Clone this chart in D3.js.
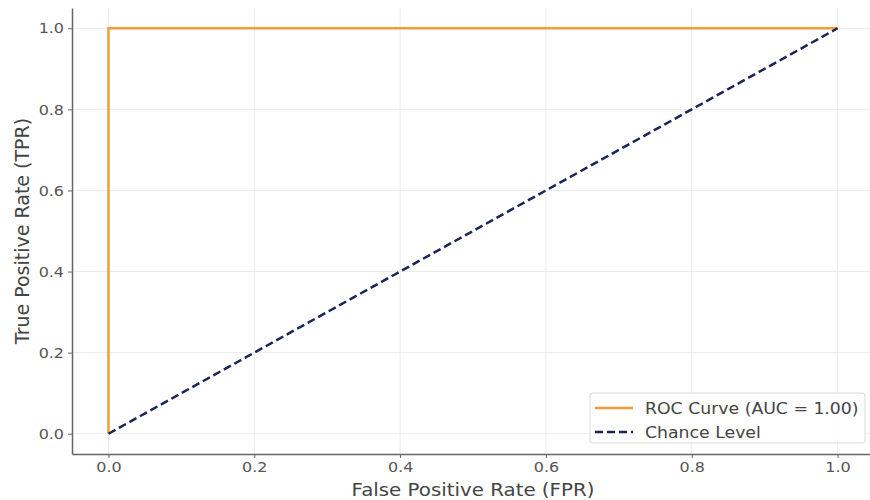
<!DOCTYPE html>
<html>
<head>
<meta charset="utf-8">
<script src="https://cdn.jsdelivr.net/npm/d3@7"></script>
<style>
  body { margin: 0; background: #fff; }
  text { font-family: "DejaVu Sans", sans-serif; }
</style>
</head>
<body>
<div id="chart"></div>
<script>
// ROC curve points
var fpr = [0.0, 0.0, 1.0];
var tpr = [0.0, 1.0, 1.0];
// chance diagonal
var chanceX = [0.0, 1.0];
var chanceY = [0.0, 1.0];
var tickValues = [0.0, 0.2, 0.4, 0.6, 0.8, 1.0];
var rocLabel = "ROC Curve (AUC = 1.00)";
var chanceLabel = "Chance Level";

var width = 870, height = 500;
var plotLeft = 72, plotRight = 874, plotTop = 8, plotBottom = 454;
var rocColor = "#f39c3c", chanceColor = "#1b2559";

var svg = d3.select("#chart").append("svg")
    .attr("width", width)
    .attr("height", height);

// the reference text looks a little wide, stretch it horizontally
function widen(sel, k){
  sel.each(function(){
    var w = this.getComputedTextLength();
    d3.select(this).attr("textLength", w * k).attr("lengthAdjust", "spacingAndGlyphs");
  });
}

var x = d3.scaleLinear().domain([-0.05, 1.05]).range([plotLeft, plotRight]);
var y = d3.scaleLinear().domain([-0.05, 1.05]).range([plotBottom, plotTop]);

// grid
svg.append("g").selectAll("line")
    .data(tickValues)
    .enter().append("line")
    .attr("x1", function(d){ return x(d); })
    .attr("x2", function(d){ return x(d); })
    .attr("y1", plotTop).attr("y2", plotBottom)
    .attr("stroke", "#ebebeb").attr("stroke-width", 1);
svg.append("g").selectAll("line")
    .data(tickValues)
    .enter().append("line")
    .attr("y1", function(d){ return y(d); })
    .attr("y2", function(d){ return y(d); })
    .attr("x1", plotLeft).attr("x2", plotRight)
    .attr("stroke", "#ebebeb").attr("stroke-width", 1);

var fmt = d3.format(".1f");
var xAxis = svg.append("g")
    .attr("transform", "translate(0," + plotBottom + ")")
    .call(d3.axisBottom(x).tickValues(tickValues).tickFormat(fmt).tickSize(4).tickPadding(4).tickSizeOuter(0));
var yAxis = svg.append("g")
    .attr("transform", "translate(" + plotLeft + ",0)")
    .call(d3.axisLeft(y).tickValues(tickValues).tickFormat(fmt).tickSize(4).tickPadding(4).tickSizeOuter(0));

[xAxis, yAxis].forEach(function(a){
  a.select(".domain").attr("stroke", "#666").attr("stroke-width", 1.5);
  a.selectAll(".tick line").attr("stroke", "#666");
  a.selectAll(".tick text").attr("fill", "#555").style("font-size", "14.5px");
  widen(a.selectAll(".tick text"), 1.1);
});

var line = d3.line()
    .x(function(d){ return x(d[0]); })
    .y(function(d){ return y(d[1]); });

svg.append("path")
    .datum(fpr.map(function(f, i){ return [f, tpr[i]]; }))
    .attr("d", line)
    .attr("fill", "none")
    .attr("stroke", rocColor)
    .attr("stroke-width", 2.5);

svg.append("path")
    .datum(chanceX.map(function(f, i){ return [f, chanceY[i]]; }))
    .attr("d", line)
    .attr("fill", "none")
    .attr("stroke", chanceColor)
    .attr("stroke-width", 2.5)
    .attr("stroke-dasharray", "8,4");

// axis labels
var xl = svg.append("text")
    .attr("x", 473).attr("y", 495.5)
    .attr("text-anchor", "middle")
    .attr("fill", "#444")
    .style("font-size", "18.5px")
    .text("False Positive Rate (FPR)");
widen(xl, 1.07);
svg.append("text")
    .attr("transform", "translate(29," + ((plotTop + plotBottom) / 2) + ") rotate(-90)")
    .attr("text-anchor", "middle")
    .attr("fill", "#444")
    .style("font-size", "19px")
    .text("True Positive Rate (TPR)");

// legend
var lg = svg.append("g").attr("transform", "translate(590,393)");
lg.append("rect")
    .attr("width", 275).attr("height", 50)
    .attr("rx", 3)
    .attr("fill", "#fff").attr("fill-opacity", 0.85)
    .attr("stroke", "#d8d8d8");
var items = [
  { label: rocLabel, color: rocColor, dash: null },
  { label: chanceLabel, color: chanceColor, dash: "8,4" }
];
items.forEach(function(it, i){
  var yy = 15 + i * 24;
  lg.append("line")
    .attr("x1", 5).attr("x2", 43)
    .attr("y1", yy).attr("y2", yy)
    .attr("stroke", it.color).attr("stroke-width", 2.5)
    .attr("stroke-dasharray", it.dash);
  var t = lg.append("text")
    .attr("x", 55).attr("y", yy + 6)
    .attr("fill", "#444")
    .style("font-size", "16px")
    .text(it.label);
  widen(t, 1.08);
});
</script>
</body>
</html>
